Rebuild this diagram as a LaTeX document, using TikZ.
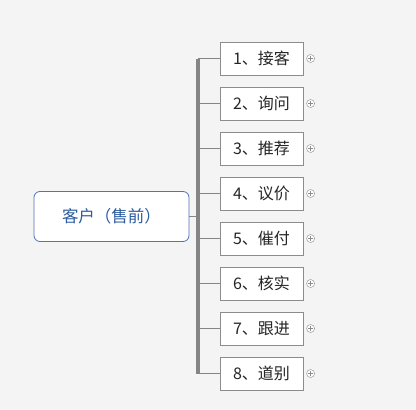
\documentclass[tikz,border=0pt]{standalone}
\usepackage{fontspec}
\setmainfont{Noto Sans CJK SC}
\usetikzlibrary{positioning}
\definecolor{bggray}{HTML}{F4F4F4}
\definecolor{rootblue}{HTML}{4F74B8}
\definecolor{roottext}{HTML}{2B5C9E}
\definecolor{boxgray}{HTML}{8C8C8C}
\definecolor{bargray}{HTML}{858585}
\tikzset{
  rootbox/.style={draw=rootblue, fill=white, rounded corners=6pt, line width=0.8pt,
    minimum width=155pt, minimum height=50pt, text=roottext, font=\fontsize{16.5pt}{18pt}\selectfont},
  leafbox/.style={draw=boxgray, fill=white, line width=0.7pt,
    minimum width=83pt, minimum height=33pt, text=black!85, font=\fontsize{16pt}{18pt}\selectfont},
  plusmark/.style={circle, draw=gray!80, fill=white, line width=0.5pt, minimum size=8pt, inner sep=0pt,
    path picture={\draw[gray!90, line width=0.6pt] ([xshift=-2.2pt]path picture bounding box.center) -- ([xshift=2.2pt]path picture bounding box.center)
      ([yshift=-2.2pt]path picture bounding box.center) -- ([yshift=2.2pt]path picture bounding box.center);}},
  twig/.style={draw=bargray, line width=0.8pt}
}
\begin{document}
\begin{tikzpicture}[x=1pt, y=-1pt]
  % background
  \fill[bggray] (0,0) rectangle (416,410);
  \useasboundingbox (0,0) rectangle (416,410);

  % root node
  \node[rootbox] (root) at (111.5,216.5) {客户（售前）};

  % branch bar
  \coordinate (bartop) at (198,58.5);
  \coordinate (barbot) at (198,373.5);

  % leaves
  \foreach \i/\txt in {1/接客,2/询问,3/推荐,4/议价,5/催付,6/核实,7/跟进,8/道别} {
    \node[leafbox] (b\i) at (261.5,{58.5+45*(\i-1)}) {\i、\txt};
    \node[plusmark, right=3pt of b\i] (p\i) {};
    \draw[twig] (bartop |- b\i.west) -- (b\i.west);
  }

  \draw[twig] (root.east) -- (root.east -| bartop);
  \draw[bargray, line width=4pt] (bartop) -- (barbot);
\end{tikzpicture}
\end{document}
